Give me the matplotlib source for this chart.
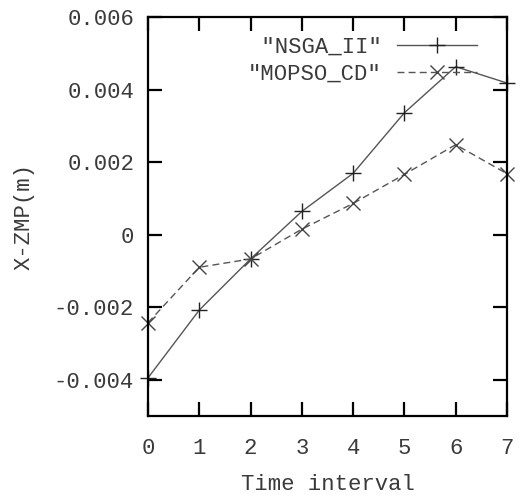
import matplotlib
matplotlib.use("Agg")
import matplotlib.pyplot as plt

# time intervals and ZMP values
time_interval = [0, 1, 2, 3, 4, 5, 6, 7]
nsga_ii = [-0.00395, -0.00208, -0.00067, 0.00064, 0.00169, 0.00336, 0.00463, 0.00418]
mopso_cd = [-0.00243, -0.00090, -0.00067, 0.00015, 0.00086, 0.00166, 0.00248, 0.00168]

x_ticks = [0, 1, 2, 3, 4, 5, 6, 7]
y_ticks = [-0.004, -0.002, 0, 0.002, 0.004, 0.006]
y_tick_labels = ["-0.004", "-0.002", "0", "0.002", "0.004", "0.006"]

plt.rcParams["font.family"] = ["Liberation Mono", "DejaVu Sans Mono"]

fig = plt.figure(figsize=(5.22, 4.97), dpi=100)
ax = fig.add_axes([0.2835, 0.163, 0.6877, 0.8028])

ax.plot(time_interval, nsga_ii, color="#555555", linewidth=1.0, marker="+",
        markersize=11, markeredgewidth=1.0, markeredgecolor="#222222",
        label=' "NSGA_II"', clip_on=False)
ax.plot(time_interval, mopso_cd, color="#555555", linewidth=1.0, linestyle=(0, (5, 3)),
        marker="x", markersize=10, markeredgewidth=1.0, markeredgecolor="#444444",
        label='"MOPSO_CD"', clip_on=False)

ax.set_xlim(0, 7)
ax.set_ylim(-0.005, 0.006)
ax.set_xticks(x_ticks)
ax.set_yticks(y_ticks)
ax.set_yticklabels(y_tick_labels)

for side in ax.spines.values():
    side.set_linewidth(1.6)
    side.set_color("black")
ax.tick_params(direction="in", length=10, width=1.6, top=True, right=True,
               labelsize=16, labelcolor="#3a3a3a")
ax.tick_params(axis="x", pad=16)
ax.tick_params(axis="y", pad=10)

ax.set_xlabel("Time interval", fontsize=16, color="#3a3a3a", labelpad=11)
ax.set_ylabel("X-ZMP(m)", fontsize=16, color="#3a3a3a", labelpad=14)

leg = ax.legend(loc="upper right", bbox_to_anchor=(0.917, 0.95), frameon=False,
                markerfirst=False, fontsize=16, handlelength=3.6, handletextpad=0.7,
                labelspacing=0.28, borderpad=0, borderaxespad=0)
for t in leg.get_texts():
    t.set_color("#3a3a3a")

fig.savefig("out.png", dpi=100)
